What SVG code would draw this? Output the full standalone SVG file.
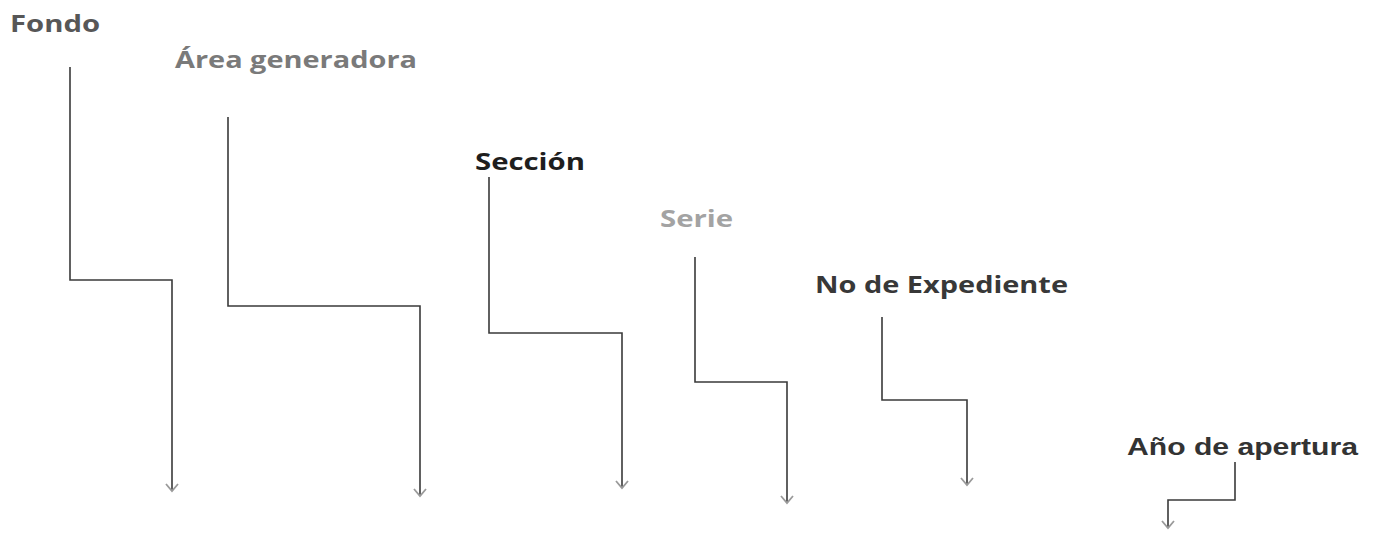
<svg xmlns="http://www.w3.org/2000/svg" width="1374" height="535" viewBox="0 0 1374 535">
<defs>
<style>
.lbl{font-family:"Open Sans","Noto Sans",sans-serif;font-weight:bold;font-size:24px}
.arial{font-family:"Liberation Sans",Arial,sans-serif;font-weight:bold;font-size:24px}
.conn{fill:none;stroke:#3a3a3a;stroke-width:1.6}
</style>
<marker id="ah" viewBox="0 0 12 14" refX="10" refY="7" markerWidth="12" markerHeight="14" markerUnits="userSpaceOnUse" orient="auto">
<path d="M3,1 L10,7 L3,13" fill="none" stroke="#9a9a9a" stroke-width="1.8"/>
</marker>
</defs>
<rect width="1374" height="535" fill="#ffffff"/>
<g id="fondo"><text class="lbl" x="10" y="32" fill="#575757" textLength="90" lengthAdjust="spacingAndGlyphs">Fondo</text></g>
<g id="area"><text class="lbl" x="175" y="68" fill="#7a7a7a" textLength="242" lengthAdjust="spacingAndGlyphs">Área generadora</text></g>
<g id="seccion"><text class="lbl" x="475" y="170" fill="#1e1e1e" textLength="110" lengthAdjust="spacingAndGlyphs">Sección</text></g>
<g id="serie"><text class="lbl" x="660" y="227" fill="#a3a3a3" textLength="73" lengthAdjust="spacingAndGlyphs">Serie</text></g>
<g id="expediente"><text class="lbl" x="815" y="293" fill="#383838" textLength="253" lengthAdjust="spacingAndGlyphs">No de Expediente</text></g>
<g id="apertura"><text class="arial" x="1127" y="455" fill="#333333" textLength="231" lengthAdjust="spacingAndGlyphs">Año de apertura</text></g>
<g id="connectors">
<path class="conn" marker-end="url(#ah)" d="M70,67 V280 H172 V491"/>
<path class="conn" marker-end="url(#ah)" d="M228,117 V306 H420 V496"/>
<path class="conn" marker-end="url(#ah)" d="M489,177 V333 H622 V488"/>
<path class="conn" marker-end="url(#ah)" d="M695,257 V382 H787 V503"/>
<path class="conn" marker-end="url(#ah)" d="M882,317 V400 H967 V485"/>
<path class="conn" marker-end="url(#ah)" d="M1235,462 V500 H1168 V528"/>
</g>
</svg>
